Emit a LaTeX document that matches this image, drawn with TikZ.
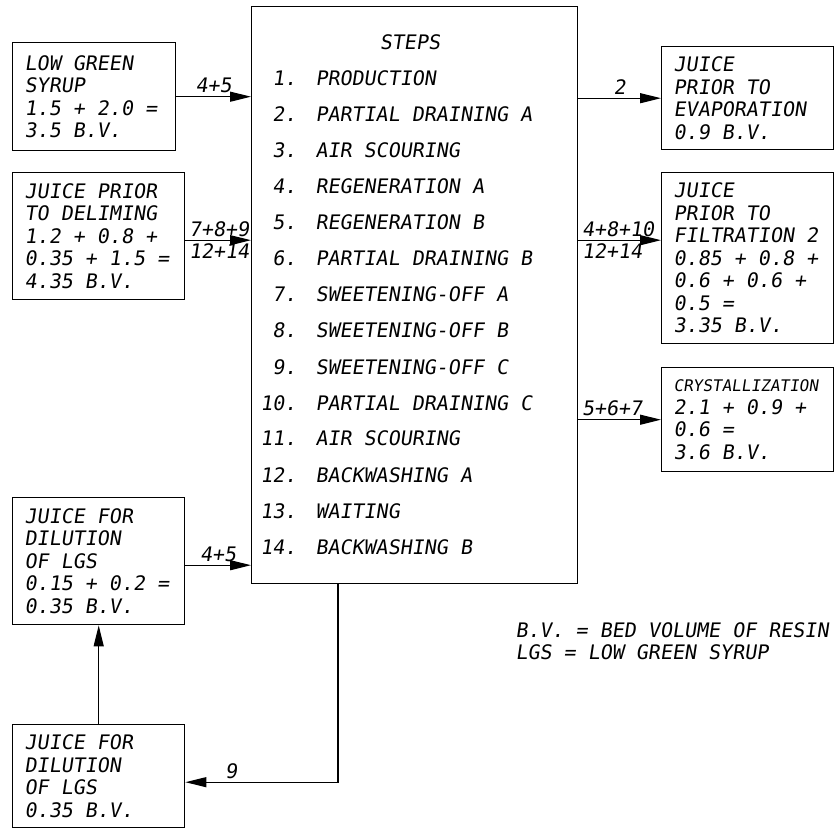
\documentclass[tikz,border=0pt]{standalone}
\usepackage{fontspec}
\newfontfamily\plotfont[FakeSlant=0.15]{DejaVu Sans Mono}
\newcommand\plotsize{\fontsize{20}{22.5}\selectfont
    \fontdimen2\font=\fontcharwd\font`\0
    \fontdimen3\font=0pt \fontdimen4\font=0pt\relax}
\usepackage{tikz}
\usetikzlibrary{
    arrows.meta,
    calc
}

\begin{document}
\begin{tikzpicture}[x=1pt,y=-1pt,
    font=\plotfont\plotsize,
    stream/.style={draw,line width=1.4pt,anchor=north west,align=flush left,
        inner xsep=12pt,inner ysep=0pt,text width=148pt},
    flow/.style={line width=1.2pt,-{Triangle[length=21pt,width=10pt]}},
    flowlabel/.style={inner sep=3pt}]

\useasboundingbox (0,0) rectangle (839,829);

% Column with the steps
\node[draw,line width=1.4pt,anchor=north west,inner sep=0pt,
    minimum width=326pt,minimum height=577pt] (steps) at (251,6) {};
\node[anchor=base] (title) at (410,50) {STEPS};
\foreach \n/\txt in {1/PRODUCTION,2/PARTIAL DRAINING A,3/AIR SCOURING,
    4/REGENERATION A,5/REGENERATION B,6/PARTIAL DRAINING B,
    7/SWEETENING-OFF A,8/SWEETENING-OFF B,9/SWEETENING-OFF C,
    10/PARTIAL DRAINING C,11/AIR SCOURING,12/BACKWASHING A,
    13/WAITING,14/BACKWASHING B} {
  \node[anchor=base east] (num\n) at (300,50+36*\n) {\n.};
  \node[anchor=base west] (step\n) at (312,50+36*\n) {\txt};
}

% Streams going in
\node[stream,text width=139pt,minimum height=108pt] (lgs) at (12,42)
    {LOW GREEN\\SYRUP\\1.5 + 2.0 =\\3.5 B.V.};
\node[stream,minimum height=127pt] (delime) at (12,172)
    {JUICE PRIOR\\TO DELIMING\\1.2 + 0.8 +\\0.35 + 1.5 =\\4.35 B.V.};
\node[stream,minimum height=127pt] (dil1) at (12,497)
    {JUICE FOR\\DILUTION\\OF LGS\\0.15 + 0.2 =\\0.35 B.V.};
\node[stream,minimum height=103pt] (dil2) at (12,724)
    {JUICE FOR\\DILUTION\\OF LGS\\0.35 B.V.};

% Streams coming out
\node[stream,minimum height=103pt] (evap) at (661,46)
    {JUICE\\PRIOR TO\\EVAPORATION\\0.9 B.V.};
\node[stream,minimum height=171pt] (filt) at (661,172)
    {JUICE\\PRIOR TO\\FILTRATION 2\\0.85 + 0.8 +\\0.6 + 0.6 +\\0.5 =\\3.35 B.V.};
\node[stream,minimum height=104pt] (cryst) at (661,367)
    {{\fontsize{16}{20}\selectfont CRYSTALLIZATION}\\2.1 + 0.9 +\\0.6 =\\3.6 B.V.};

% Flows
\coordinate (split) at ([yshift=-4pt]delime.east);
\coordinate (dilin) at ([yshift=-4pt]dil1.east);
\coordinate (dilout) at ([yshift=-6pt]dil2.east);
\draw[flow] (lgs.east) -- (steps.west |- lgs.east)
    node[flowlabel,midway,above] {4+5};
\draw[flow] (split) -- (split -| steps.west)
    node[flowlabel,pos=0,above right] {7+8+9}
    node[flowlabel,pos=0,below right] {12+14};
\draw[flow] (dilin) -- (dilin -| steps.west)
    node[flowlabel,midway,above] {4+5};
\draw[flow] (steps.east |- evap.west) -- (evap.west)
    node[flowlabel,midway,above] {2};
\draw[flow] (split -| steps.east) -- (split -| filt.west)
    node[flowlabel,pos=0,above right] {4+8+10}
    node[flowlabel,pos=0,below right] {12+14};
\draw[flow] (steps.east |- cryst.west) -- (cryst.west)
    node[flowlabel,pos=0,above right] {5+6+7};

% Return of juice for dilution
\coordinate (drain) at ([xshift=87pt]steps.south west);
\draw[flow] (drain) |- (dilout)
    node[flowlabel,pos=0.85,above] {9};
\draw[flow] (dil2.north) -- (dil1.south);

% Legend
\node[anchor=base west] (bv) at (512,637) {B.V. = BED VOLUME OF RESIN};
\node[anchor=base west] (lgsnote) at (512,659) {LGS = LOW GREEN SYRUP};

\end{tikzpicture}
\end{document}
